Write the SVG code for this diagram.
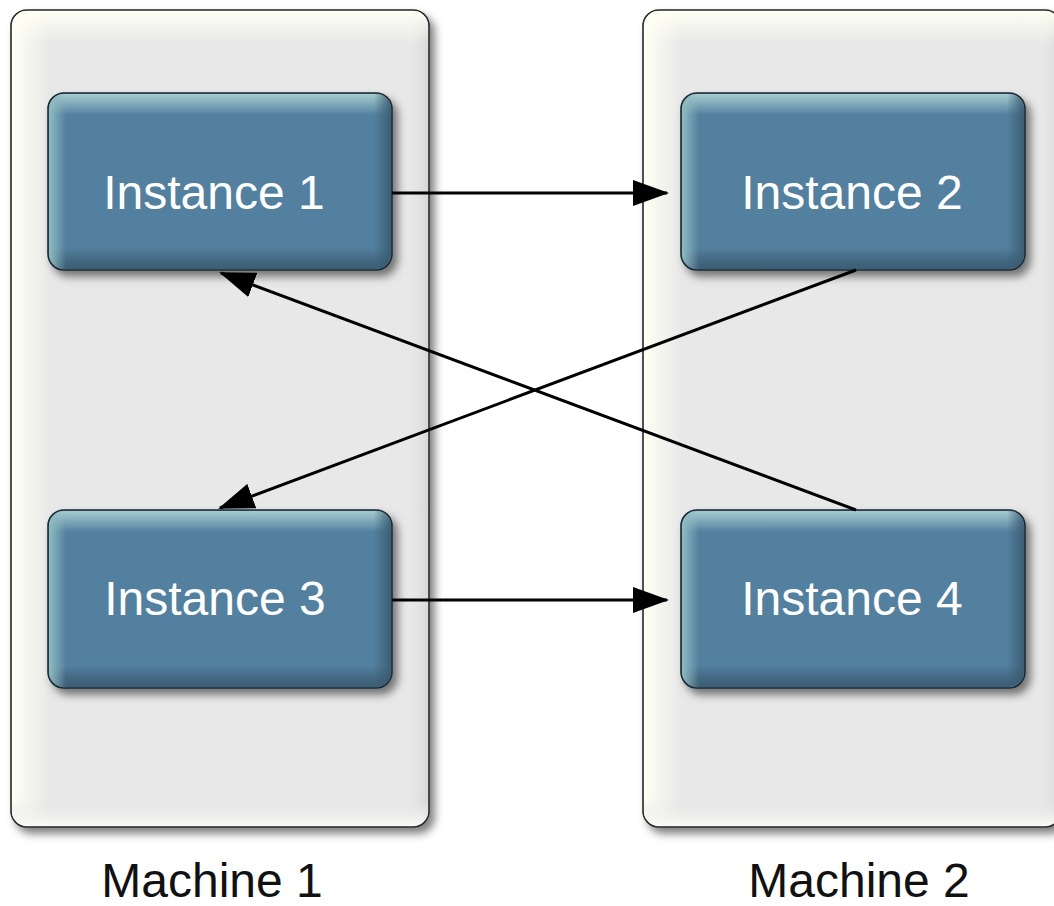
<svg xmlns="http://www.w3.org/2000/svg" width="1054" height="906" viewBox="0 0 1054 906">
<style>
.machine-bg{fill:#e8e8e8;stroke:#2a2a2a;stroke-width:1.6}
.inst-bg{fill:#53809f;stroke:#1e2a33;stroke-width:1.6}
.inst-text{font-family:"Liberation Sans",Arial,sans-serif;font-size:48px;fill:#ffffff;text-anchor:middle}
.mach-text{font-family:"Liberation Sans",Arial,sans-serif;font-size:48px;fill:#111111;text-anchor:middle}
.conn{stroke:#000;stroke-width:3;fill:none;marker-end:url(#arrow)}
</style>
<defs>
<filter id="shadow" x="-10%" y="-10%" width="125%" height="125%">
<feDropShadow dx="5" dy="6" stdDeviation="4" flood-color="#000" flood-opacity="0.5"/>
</filter>
<linearGradient id="mLeft" x1="0" y1="0" x2="1" y2="0">
<stop offset="0" stop-color="#fffff4" stop-opacity="1"/>
<stop offset="0.09" stop-color="#fffff4" stop-opacity="0"/>
<stop offset="0.95" stop-color="#e8e8e8" stop-opacity="0"/>
<stop offset="1" stop-color="#d6d6d6" stop-opacity="1"/>
</linearGradient>
<linearGradient id="mTop" x1="0" y1="0" x2="0" y2="1">
<stop offset="0" stop-color="#fffff4" stop-opacity="1"/>
<stop offset="0.04" stop-color="#fffff4" stop-opacity="0"/>
<stop offset="0.965" stop-color="#e0e0e0" stop-opacity="0"/>
<stop offset="1" stop-color="#fafaf8" stop-opacity="1"/>
</linearGradient>
<linearGradient id="iTop" x1="0" y1="0" x2="0" y2="1">
<stop offset="0" stop-color="#a6ccd0" stop-opacity="1"/>
<stop offset="0.12" stop-color="#a6ccd0" stop-opacity="0"/>
<stop offset="0.88" stop-color="#2f4b60" stop-opacity="0"/>
<stop offset="1" stop-color="#3a5a70" stop-opacity="0.9"/>
</linearGradient>
<linearGradient id="iLeft" x1="0" y1="0" x2="1" y2="0">
<stop offset="0" stop-color="#8fbcc0" stop-opacity="1"/>
<stop offset="0.05" stop-color="#8fbcc0" stop-opacity="0"/>
<stop offset="0.95" stop-color="#3a5a70" stop-opacity="0"/>
<stop offset="1" stop-color="#3a5a70" stop-opacity="0.9"/>
</linearGradient>
<marker id="arrow" markerUnits="userSpaceOnUse" markerWidth="36" markerHeight="26" refX="34" refY="13" orient="auto">
<path d="M0,0 L36,13 L0,26 Z" fill="#000"/>
</marker>
</defs>

<g id="machine1">
<rect class="machine-bg" x="11" y="10" width="418" height="817" rx="16" filter="url(#shadow)"/>
<rect x="12" y="11" width="416" height="815" rx="15" fill="url(#mLeft)"/>
<rect x="12" y="11" width="416" height="815" rx="15" fill="url(#mTop)"/>
<text class="mach-text" x="212" y="897">Machine 1</text>
</g>

<g id="machine2">
<rect class="machine-bg" x="643" y="10" width="418" height="817" rx="16" filter="url(#shadow)"/>
<rect x="644" y="11" width="416" height="815" rx="15" fill="url(#mLeft)"/>
<rect x="644" y="11" width="416" height="815" rx="15" fill="url(#mTop)"/>
<text class="mach-text" x="859" y="897">Machine 2</text>
</g>

<g id="instance1">
<rect class="inst-bg" x="48" y="93" width="344" height="177" rx="16" filter="url(#shadow)"/>
<rect x="49" y="94" width="342" height="175" rx="15" fill="url(#iTop)"/>
<rect x="49" y="94" width="342" height="175" rx="15" fill="url(#iLeft)"/>
<text class="inst-text" x="214" y="209">Instance 1</text>
</g>

<g id="instance2">
<rect class="inst-bg" x="681" y="93" width="344" height="177" rx="16" filter="url(#shadow)"/>
<rect x="682" y="94" width="342" height="175" rx="15" fill="url(#iTop)"/>
<rect x="682" y="94" width="342" height="175" rx="15" fill="url(#iLeft)"/>
<text class="inst-text" x="852" y="209">Instance 2</text>
</g>

<g id="instance3">
<rect class="inst-bg" x="48" y="510" width="344" height="178" rx="16" filter="url(#shadow)"/>
<rect x="49" y="511" width="342" height="176" rx="15" fill="url(#iTop)"/>
<rect x="49" y="511" width="342" height="176" rx="15" fill="url(#iLeft)"/>
<text class="inst-text" x="215" y="615">Instance 3</text>
</g>

<g id="instance4">
<rect class="inst-bg" x="681" y="510" width="344" height="178" rx="16" filter="url(#shadow)"/>
<rect x="682" y="511" width="342" height="176" rx="15" fill="url(#iTop)"/>
<rect x="682" y="511" width="342" height="176" rx="15" fill="url(#iLeft)"/>
<text class="inst-text" x="852" y="615">Instance 4</text>
</g>

<g id="connectors">
<line class="conn" x1="392" y1="193" x2="667" y2="193"/>
<line class="conn" x1="392" y1="600" x2="667" y2="600"/>
<line class="conn" x1="856" y1="270" x2="220" y2="508"/>
<line class="conn" x1="856" y1="510" x2="221" y2="273"/>
</g>
</svg>
